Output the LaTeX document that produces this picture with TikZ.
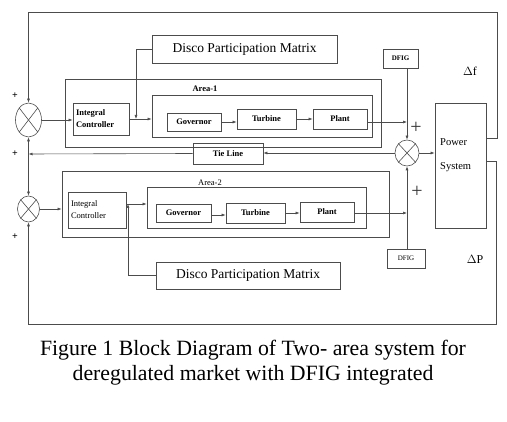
\documentclass[tikz,border=0pt]{standalone}
\usepackage{fontspec}
\setmainfont{Liberation Serif}
\usetikzlibrary{arrows.meta,shapes.geometric,calc}
\begin{document}
\begin{tikzpicture}[x=1pt,y=-1pt,
  ln/.style={draw=black!70,line width=0.6pt},
  arr/.style={ln,-{Latex[length=4pt,width=3pt]}},
  blk/.style={draw=black!70,line width=0.7pt,inner sep=0pt,align=center},
  small/.style={font=\fontsize{8.5}{10}\selectfont\bfseries},
  sumj/.style={draw=black!70,line width=0.6pt,ellipse,inner sep=0pt},
  pl/.style={font=\fontsize{10}{10}\selectfont\bfseries,inner sep=0pt},
  thinplus/.style={font=\fontsize{20}{20}\selectfont,inner sep=0pt,text=black!80}]
\useasboundingbox (0,0) rectangle (507,422);
% outer area boxes
\node[blk,minimum width=316,minimum height=68] (a1) at (223,113) {};
\node[blk,minimum width=220,minimum height=42] (i1) at (262,116) {};
\node[blk,minimum width=327,minimum height=66] (a2) at (225.5,204) {};
\node[blk,minimum width=219,minimum height=41] (i2) at (256.5,207.5) {};
\node[small,inner sep=0pt] (al1) at (205,89) {Area-1};
\node[font=\fontsize{8.5}{10}\selectfont,inner sep=0pt] (al2) at (210,183) {Area-2};
% blocks area 1
\node[blk,minimum width=185,minimum height=28,font=\fontsize{13.5}{14}\selectfont] (d1) at (244.5,49) {Disco Participation Matrix};
\node[blk,small,minimum width=56,minimum height=32,align=left,text width=50] (ic1) at (101,119) {Integral\\[2pt]Controller};
\node[blk,small,minimum width=54,minimum height=18] (g1) at (194,122) {Governor};
\node[blk,small,minimum width=59,minimum height=20] (t1) at (266.5,119) {Turbine};
\node[blk,small,minimum width=54,minimum height=20] (p1) at (340,119) {Plant};
\node[blk,minimum width=35,minimum height=19,font=\fontsize{7}{8}\selectfont\bfseries] (f1) at (400.5,58.5) {DFIG};
% blocks area 2
\node[blk,minimum width=184,minimum height=27,font=\fontsize{13.5}{14}\selectfont] (d2) at (248,275.5) {Disco Participation Matrix};
\node[blk,minimum width=58,minimum height=36,align=left,text width=52,font=\fontsize{8.5}{10}\selectfont] (ic2) at (97,210) {Integral\\[2pt]Controller};
\node[blk,small,minimum width=55,minimum height=18] (g2) at (183.5,213) {Governor};
\node[blk,small,minimum width=59,minimum height=20] (t2) at (255.5,213) {Turbine};
\node[blk,small,minimum width=54,minimum height=20] (p2) at (327,212) {Plant};
\node[blk,minimum width=38,minimum height=19,font=\fontsize{7}{8}\selectfont] (f2) at (406,258.5) {DFIG};
% other blocks
\node[blk,small,minimum width=70,minimum height=21] (tl) at (228,153.5) {Tie Line};
\node[blk,minimum width=51,minimum height=125] (ps) at (460.5,165.5) {};
\node[font=\fontsize{10.5}{12}\selectfont,align=left,anchor=west,inner sep=0pt] (pst) at (440,155) {Power\\[12pt]System};
% summing junctions
\node[sumj,minimum width=26,minimum height=34] (s1) at (28.5,120) {};
\node[sumj,minimum width=22,minimum height=26] (s3) at (28.5,209) {};
\node[sumj,minimum width=24,minimum height=26] (s2) at (407,153) {};
\foreach \s in {s1,s2,s3}{
  \draw[ln] (\s.north west) -- (\s.south east);
  \draw[ln] (\s.north east) -- (\s.south west);
}
% coordinates
\coordinate (tr) at (497,12);
\coordinate (tl0) at (28.5,12);
\coordinate (br) at (496,324);
\coordinate (bl) at (28.5,324);
\coordinate (j1) at (136,119);
\coordinate (j2) at (28.5,154);
\coordinate (j3) at (128,204);
% feedback loops
\draw[arr] (ps.east |- 0,138) -| (tr) -- (tl0) -- (s1.north);
\draw[arr] (ps.east |- 0,161) -| (br) -- (bl) -- (s3.south);
% area 1 signals
\draw[arr] (s1.east) -- (s1.east -| ic1.west);
\draw[arr] (ic1.east) -- (ic1.east -| i1.west);
\draw[arr] (d1.west) -| (j1);
\draw[arr] (g1.east) -- (g1.east -| t1.west);
\draw[arr] (t1.east) -- (t1.east -| p1.west);
\draw[arr] ([yshift=-3pt]p1.east) -- ([yshift=-3pt]p1.east -| s2.north);
\draw[arr] (f1.south -| s2.north) -- (s2.north);
% centre
\draw[arr] (s2.east) -- (s2.east -| ps.west);
\draw[arr] (s2.west) -- (s2.west -| tl.east);
\draw[arr] (tl.west) -- (j2);
\draw[arr] (j2) -- (s1.south);
\draw[arr] (j2) -- (s3.north);
% area 2 signals
\draw[arr] (s3.east) -- (s3.east -| a2.west);
\draw[arr] ([yshift=6pt]ic2.east) -- ([yshift=6pt]ic2.east -| i2.west);
\draw[arr] (d2.west) -| (j3);
\draw[arr] ([yshift=-2pt]g2.east) -- ([yshift=-2pt]g2.east -| t2.west);
\draw[arr] (t2.east) -- (t2.east -| p2.west);
\draw[arr] ([yshift=-1pt]p2.east) -- ([yshift=-1pt]p2.east -| s2.south);
\draw[arr] (f2.north -| s2.south) -- (s2.south);
% signs
\node[pl] (pa) at (15,96) {+};
\node[pl] (pb) at (15,154) {+};
\node[pl] (pc) at (15,237) {+};
\node[thinplus] (pd) at (416,128) {+};
\node[thinplus] (pe) at (417,192) {+};
\node[font=\fontsize{12}{12}\selectfont,inner sep=0pt] (df) at (470,71) {$\Delta$f};
\node[font=\fontsize{12}{12}\selectfont,inner sep=0pt] (dp) at (475,259) {$\Delta$P};
% caption
\node[font=\fontsize{21.8}{25}\selectfont,align=center,anchor=north,inner sep=0pt] (cap) at (253,340) {Figure 1 Block Diagram of Two- area system for\\deregulated market with DFIG integrated};
\end{tikzpicture}
\end{document}
